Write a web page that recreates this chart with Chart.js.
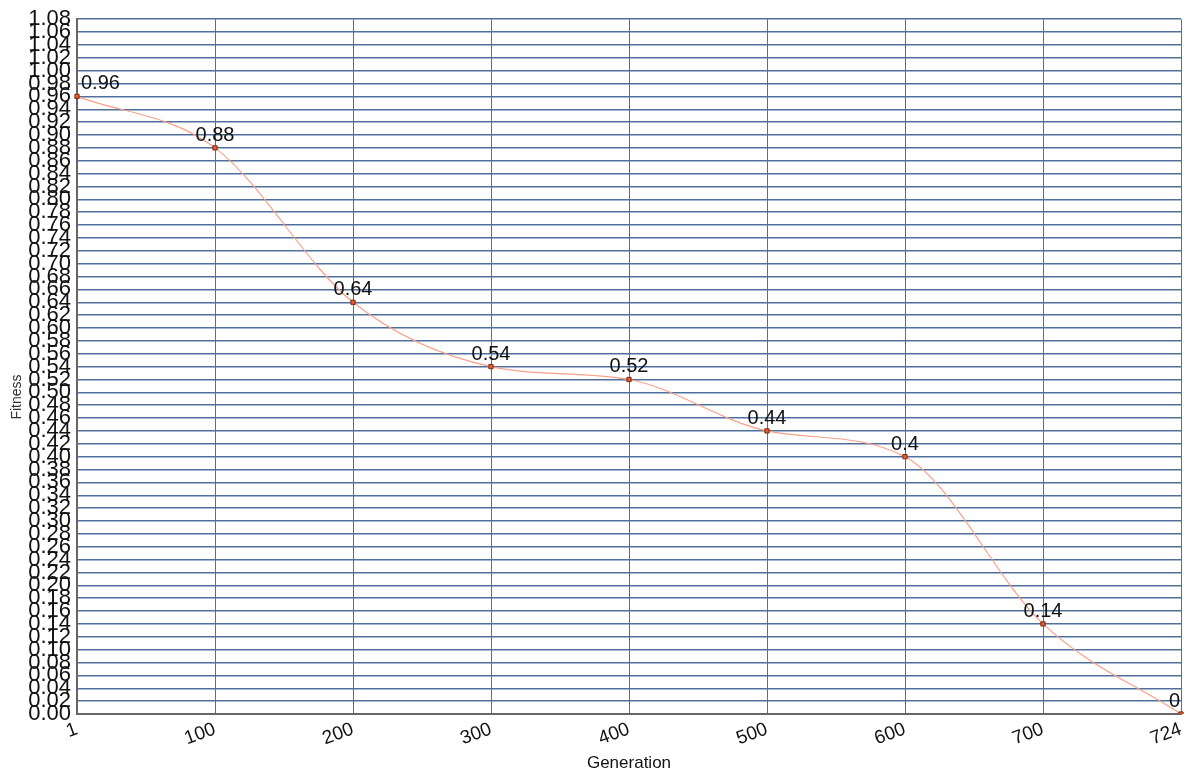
<!DOCTYPE html>
<html>
<head>
<meta charset="utf-8">
<script src="https://cdn.jsdelivr.net/npm/chart.js@4"></script>
<style>
  html, body { margin: 0; padding: 0; background: #fff; }
  #grafica { display: block; }
</style>
</head>
<body>
<canvas id="grafica" width="1186" height="774"></canvas>
<script>
// generaciones y valores de fitness
const generaciones = ["1", "100", "200", "300", "400", "500", "600", "700", "724"];
const fitness = [0.96, 0.88, 0.64, 0.54, 0.52, 0.44, 0.4, 0.14, 0];
const etiquetasPuntos = ["0.96", "0.88", "0.64", "0.54", "0.52", "0.44", "0.4", "0.14", "0"];

const yMin = 0;
const yMax = 1.08;
const yPaso = 0.02;

const fuente = "'Liberation Sans', Arial, sans-serif";

// etiquetas encima de cada punto, sin salir del area de la grafica
const etiquetasPlugin = {
  id: "etiquetasPuntos",
  afterDatasetsDraw(chart) {
    const ctx = chart.ctx;
    const area = chart.chartArea;
    const meta = chart.getDatasetMeta(0);
    ctx.save();
    ctx.font = "20px " + fuente;
    ctx.fillStyle = "#111";
    ctx.textBaseline = "alphabetic";
    meta.data.forEach((p, i) => {
      const txt = etiquetasPuntos[i];
      const w = ctx.measureText(txt).width;
      let x = p.x - w / 2;
      if (x < area.left + 4) x = area.left + 4;
      if (x + w > area.right - 1) x = area.right - 1 - w;
      ctx.fillText(txt, x, p.y - 7);
    });

    // titulo del eje Y
    ctx.font = "14px " + fuente;
    ctx.translate(17, 397);
    ctx.rotate(-Math.PI / 2);
    ctx.textAlign = "center";
    ctx.textBaseline = "middle";
    ctx.fillStyle = "#333";
    ctx.fillText("Fitness", 0, 0);
    ctx.restore();
  },
};

const $grafica = document.querySelector("#grafica");

new Chart($grafica, {
  type: "line",
  data: {
    labels: generaciones,
    datasets: [
      {
        label: "Fitness",
        data: fitness,
        borderColor: "#f9a088",
        borderWidth: 1.2,
        cubicInterpolationMode: "monotone",
        pointStyle: "rect",
        pointRadius: 3,
        pointBackgroundColor: "#ee5a2a",
        pointBorderColor: "#7a2a14",
        pointBorderWidth: 1,
        fill: false,
      },
    ],
  },
  options: {
    responsive: false,
    animation: false,
    layout: {
      padding: { top: 9, right: 0, left: 0, bottom: 0 },
    },
    scales: {
      x: {
        offset: false,
        afterFit: (s) => {
          s.height = 60;
          s.paddingRight = 5;
          s.paddingLeft = 0;
        },
        grid: {
          color: "#50709c",
          lineWidth: 1,
          drawTicks: false,
        },
        border: { color: "#666", width: 2 },
        ticks: {
          maxRotation: 20,
          minRotation: 20,
          padding: 4,
          color: "#111",
          font: { size: 19, family: fuente },
        },
        title: {
          display: true,
          text: "Generation",
          color: "#111",
          padding: { top: 0, bottom: 0 },
          font: { size: 17, family: fuente },
        },
      },
      y: {
        min: yMin,
        max: yMax,
        afterFit: (s) => {
          s.width = 77;
        },
        grid: {
          color: "#50709c",
          lineWidth: 1.5,
          drawTicks: false,
        },
        border: { color: "#666", width: 2 },
        ticks: {
          stepSize: yPaso,
          autoSkip: false,
          padding: 6,
          color: "#111",
          font: { size: 22, family: fuente },
          callback: (v) => v.toFixed(2),
        },
      },
    },
    plugins: {
      legend: { display: false },
      tooltip: { enabled: false },
    },
  },
  plugins: [etiquetasPlugin],
});
</script>
</body>
</html>
